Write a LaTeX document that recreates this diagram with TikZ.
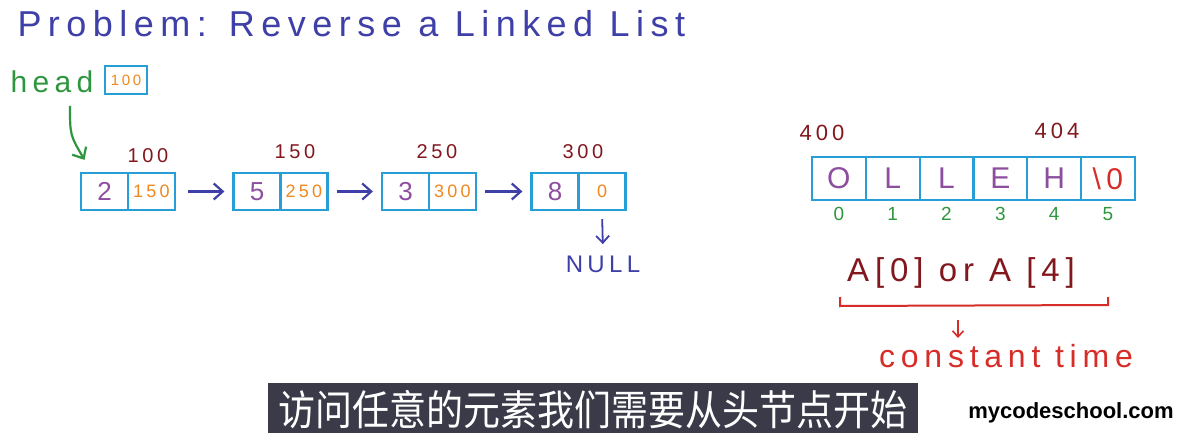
\documentclass[tikz,border=0pt]{standalone}
\usepackage{fontspec}
\setmainfont{Liberation Sans}
\newfontfamily\hand[LetterSpace=18]{Liberation Sans}
\newfontfamily\cjk{Noto Sans CJK SC}
\usetikzlibrary{positioning,arrows.meta}
\definecolor{inkblue}{RGB}{62,64,168}
\definecolor{inkgreen}{RGB}{46,150,62}
\definecolor{inkorange}{RGB}{240,136,30}
\definecolor{inkpurple}{RGB}{142,78,160}
\definecolor{inkdred}{RGB}{130,24,30}
\definecolor{inkred}{RGB}{215,45,40}
\definecolor{cellblue}{RGB}{40,158,215}
\definecolor{subgray}{RGB}{58,58,72}
\tikzset{
  cell/.style={draw=cellblue,line width=2.2pt,minimum width=47pt,minimum height=37pt,inner sep=0pt},
  acell/.style={draw=cellblue,line width=2.2pt,minimum width=53.8pt,minimum height=43pt,inner sep=0pt},
  dat/.style={text=inkpurple,font=\hand\fontsize{26}{28}\selectfont},
  lnk/.style={text=inkorange,font=\hand\fontsize{18}{20}\selectfont},
  addr/.style={text=inkdred,font=\hand\fontsize{20}{22}\selectfont},
  arr/.style={inkblue,line width=2.2pt,-{Straight Barb[length=9pt,width=16pt]}},
  idx/.style={text=inkgreen,font=\hand\fontsize{19}{21}\selectfont}
}
\begin{document}
\begin{tikzpicture}[x=1pt,y=-1pt]
\useasboundingbox[fill=white] (0,0) rectangle (1183,433);
% title
\node[anchor=west,text=inkblue,font=\hand\fontsize{36}{38}\selectfont] (title) at (14,24) {Problem: Reverse a Linked List};
% head pointer
\node[anchor=west,text=inkgreen,font=\hand\fontsize{30}{32}\selectfont] (head) at (7,82) {head};
\node[draw=cellblue,line width=2.2pt,minimum width=42pt,minimum height=28pt,inner sep=0pt,lnk,font=\hand\fontsize{15}{17}\selectfont] (hbox) at (126,80) {100};
\coordinate (hstart) at (70,106);
% linked list
\node[cell,dat] (d1) at (104.5,191.5) {2};
\node[cell,lnk] (a1) at (151.5,191.5) {150};
\node[cell,dat] (d2) at (257,191.5) {5};
\node[cell,lnk] (a2) at (304,191.5) {250};
\node[cell,dat] (d3) at (405.5,191.5) {3};
\node[cell,lnk] (a3) at (452.5,191.5) {300};
\node[cell,dat] (d4) at (555,191.5) {8};
\node[cell,lnk] (a4) at (602,191.5) {0};
\node[addr] (ad1) at (148,156) {100};
\node[addr] (ad2) at (295,152) {150};
\node[addr] (ad3) at (437,152) {250};
\node[addr] (ad4) at (583,152) {300};
\draw[inkgreen,line width=2.2pt,-{Straight Barb[length=9pt,width=16pt]}] (hstart) .. controls (70,135) .. ([xshift=-20pt,yshift=12pt]d1.north);
\draw[arr,shorten <=12pt,shorten >=8pt] (a1) -- (d2);
\draw[arr,shorten <=8pt,shorten >=8pt] (a2) -- (d3);
\draw[arr,shorten <=8pt,shorten >=8pt] (a3) -- (d4);
\node[text=inkblue,font=\hand\fontsize{24}{26}\selectfont] (null) at (603,264) {NULL};
\draw[inkblue,line width=1.8pt,shorten <=8pt,shorten >=8pt,-{Straight Barb[length=7pt,width=13pt]}] (a4.south) -- (null.north);
% array
\node[acell,dat,font=\hand\fontsize{30}{32}\selectfont] (c0) at (838.9,178.5) {O};
\node[acell,dat,font=\hand\fontsize{30}{32}\selectfont] (c1) at (892.7,178.5) {L};
\node[acell,dat,font=\hand\fontsize{30}{32}\selectfont] (c2) at (946.5,178.5) {L};
\node[acell,dat,font=\hand\fontsize{30}{32}\selectfont] (c3) at (1000.3,178.5) {E};
\node[acell,dat,font=\hand\fontsize{30}{32}\selectfont] (c4) at (1054.1,178.5) {H};
\node[acell,text=inkred,font=\hand\fontsize{30}{32}\selectfont] (c5) at (1107.9,178.5) {\textbackslash 0};
\foreach \i in {0,...,5}
  \node[idx,below=3pt of c\i] (i\i) {\i};
\node[addr,font=\hand\fontsize{22}{24}\selectfont] (ad400) at (822,133) {400};
\node[addr,font=\hand\fontsize{22}{24}\selectfont] (ad404) at (1057,131) {404};
% access
\node[text=inkdred,font=\hand\fontsize{33}{35}\selectfont] (acc) at (961,273) {A[0] or A [4]};
\coordinate (bl) at (840,297);
\coordinate (br) at (1108,297);
\draw[inkred,line width=2pt] (bl) -- ++(0,9) -- ([yshift=-8pt]br) -- (br);
\node[text=inkred,font=\hand\fontsize{32}{34}\selectfont] (ct) at (1006,356) {constant time};
\draw[inkred,line width=1.6pt,-{Straight Barb[length=6pt,width=11pt]}] (958,320) -- (958,338);
% subtitle
\fill[subgray] (268,383) rectangle (918,433);
\node[text=white,font=\cjk\fontsize{37}{39}\selectfont,yscale=1.12] (sub) at (593,410) {访问任意的元素我们需要从头节点开始};
\node[font=\bfseries\fontsize{22}{24}\selectfont] (logo) at (1071,413) {mycodeschool.com};
\end{tikzpicture}
\end{document}
